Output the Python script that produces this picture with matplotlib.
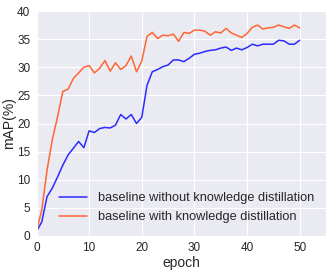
import numpy as np
import matplotlib
matplotlib.use('Agg')
import matplotlib.pyplot as plt
import seaborn as sns

# data
epochs = list(range(51))
map_without_kd = [0.8, 2.5, 7.0, 8.5, 10.5, 12.6, 14.4, 15.6, 16.8, 15.7,
                  18.7, 18.4, 19.1, 19.3, 19.2, 19.7, 21.6, 20.8, 21.6, 20.0,
                  21.1, 26.8, 29.2, 29.6, 30.1, 30.4, 31.3, 31.3, 31.0, 31.6,
                  32.3, 32.5, 32.8, 33.0, 33.1, 33.4, 33.6, 33.0, 33.4, 33.1,
                  33.5, 34.1, 33.8, 34.1, 34.1, 34.1, 34.8, 34.7, 34.1, 34.1,
                  34.8]
map_with_kd = [0.9, 4.6, 11.7, 17.1, 21.2, 25.7, 26.1, 28.0, 29.0, 30.0,
               30.3, 29.0, 29.8, 31.2, 29.3, 30.8, 29.6, 30.3, 32.0, 29.2,
               31.1, 35.5, 36.2, 35.1, 35.7, 35.6, 35.9, 34.6, 36.2, 36.0,
               36.6, 36.6, 36.4, 35.7, 36.3, 36.1, 36.9, 36.1, 35.7, 35.3,
               36.0, 37.1, 37.5, 36.8, 37.0, 37.1, 37.5, 37.2, 36.9, 37.5,
               37.0]
labels = ['baseline without knowledge distillation',
          'baseline with knowledge distillation']

sns.set_style('darkgrid')
plt.rcParams['font.family'] = ['Liberation Sans', 'DejaVu Sans']

fig = plt.figure(figsize=(3.32, 2.73), dpi=100)
ax = fig.add_axes([36.5/332, 1 - 236/273, (326 - 36.5)/332, (236 - 11)/273])

ax.plot(epochs, map_without_kd, color='#2b2bff', lw=1.1, label=labels[0])
ax.plot(epochs, map_with_kd, color='#ff6633', lw=1.1, label=labels[1])

ax.set_xlim(0, 55)
ax.set_ylim(0, 40)
ax.set_xticks([0, 10, 20, 30, 40, 50])
ax.set_yticks([0, 5, 10, 15, 20, 25, 30, 35, 40])
ax.tick_params(labelsize=8.5, pad=1, colors='#262626')
ax.set_xlabel('epoch', fontsize=10, labelpad=1)
ax.set_ylabel('mAP(%)', fontsize=10, labelpad=1)
ax.legend(loc='lower left', fontsize=9.2, frameon=False, borderaxespad=0,
          handlelength=2.2, handletextpad=0.8, labelspacing=0.55,
          bbox_to_anchor=(0.061, 0.035))

fig.savefig('out.png', dpi=100)
